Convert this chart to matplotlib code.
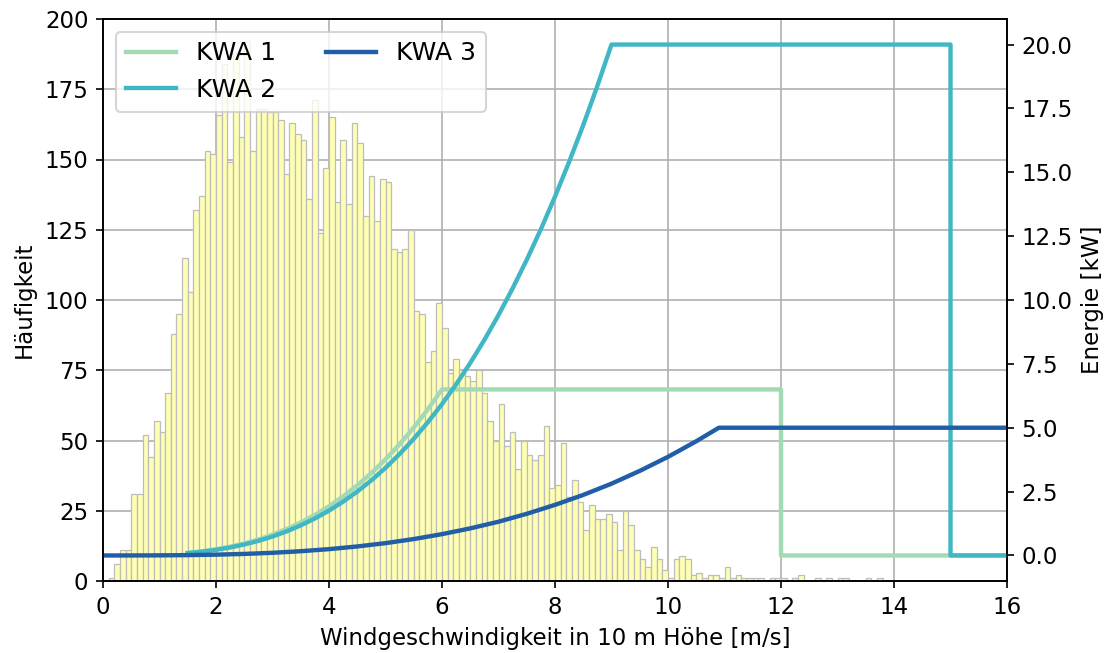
import matplotlib
matplotlib.use("Agg")
import matplotlib.pyplot as plt
import numpy as np

plt.rcParams["font.size"] = 11

# histogram of wind speed, bins of 0.1 m/s starting at 0
bin_width = 0.1
counts = [0, 1, 6, 11, 11, 31, 31, 52, 44, 57,
          53, 67, 88, 95, 115, 103, 132, 137, 153, 152,
          166, 184, 149, 188, 158, 192, 153, 168, 168, 167,
          167, 164, 145, 163, 159, 157, 136, 171, 124, 147,
          165, 135, 157, 134, 163, 156, 130, 144, 128, 143,
          142, 118, 117, 118, 125, 96, 95, 78, 82, 99,
          90, 74, 79, 75, 73, 71, 75, 67, 57, 50,
          63, 48, 53, 40, 50, 45, 43, 45, 55, 33,
          34, 49, 30, 36, 28, 18, 27, 22, 22, 24,
          21, 11, 25, 20, 11, 8, 5, 12, 8, 4,
          1, 8, 9, 8, 2, 3, 1, 2, 2, 1,
          5, 1, 2, 1, 1, 1, 1, 0, 1, 1,
          1, 0, 1, 2, 0, 0, 1, 0, 1, 0,
          1, 1, 0, 0, 0, 1, 0, 1, 0, 0]

# power curves
kwa1_v = [1.5, 1.75, 2.0, 2.25, 2.5, 2.75, 3.0, 3.25, 3.5, 3.75, 4.0, 4.25, 4.5,
          4.75, 5.0, 5.25, 5.5, 5.75, 6.0, 12.0, 12.0, 16.0]
kwa1_p = [0.102, 0.161, 0.241, 0.343, 0.470, 0.626, 0.813, 1.033, 1.290, 1.587,
          1.926, 2.310, 2.742, 3.225, 3.762, 4.355, 5.007, 5.721, 6.5, 6.5, 0.0, 0.0]

kwa2_v = [1.5, 1.75, 2.0, 2.25, 2.5, 2.75, 3.0, 3.25, 3.5, 3.75, 4.0, 4.25, 4.5,
          4.75, 5.0, 5.25, 5.5, 5.75, 6.0, 6.25, 6.5, 6.75, 7.0, 7.25, 7.5, 7.75,
          8.0, 8.25, 8.5, 8.75, 9.0, 15.0, 15.0, 16.0]
kwa2_p = [0.093, 0.147, 0.219, 0.313, 0.429, 0.570, 0.741, 0.942, 1.176, 1.447,
          1.756, 2.106, 2.500, 2.940, 3.429, 3.970, 4.565, 5.216, 5.926, 6.698,
          7.534, 8.438, 9.410, 10.455, 11.574, 12.770, 14.047, 15.405, 16.849,
          18.380, 20.0, 20.0, 0.0, 0.0]

kwa3_v = [0.0, 0.5, 1.0, 1.5, 2.0, 2.5, 3.0, 3.5, 4.0, 4.5, 5.0, 5.5, 6.0, 6.5,
          7.0, 7.5, 8.0, 8.5, 9.0, 9.5, 10.0, 10.5, 10.9, 16.0]
kwa3_p = [0.0, 0.0, 0.004, 0.013, 0.031, 0.060, 0.104, 0.166, 0.247, 0.352, 0.482,
          0.642, 0.834, 1.06, 1.32, 1.63, 1.98, 2.37, 2.81, 3.31, 3.86, 4.47, 5.0, 5.0]

fig = plt.figure(figsize=(1109 / 150, 653 / 150), dpi=150)
ax = fig.add_axes([103 / 1109, 1 - 581 / 653, 904 / 1109, 562 / 653])

left = np.arange(len(counts)) * bin_width
ax.bar(left, counts, width=bin_width, align="edge", color="#ffffb3",
       edgecolor="#bdbdbd", linewidth=0.6)
ax.set_axisbelow(True)
ax.grid(True, color="#b0b0b0", linewidth=0.8)
ax.set_xlim(0, 16)
ax.set_ylim(0, 200)
ax.set_yticks(np.arange(0, 201, 25))
ax.set_xlabel("Windgeschwindigkeit in 10 m Höhe [m/s]")
ax.set_ylabel("Häufigkeit")

ax2 = ax.twinx()
ax2.plot(kwa1_v, kwa1_p, color="#a1dab4", lw=2.1, label="KWA 1")
ax2.plot(kwa2_v, kwa2_p, color="#41b6c4", lw=2.1, label="KWA 2")
ax2.plot(kwa3_v, kwa3_p, color="#225ea8", lw=2.1, label="KWA 3")
ax2.set_ylim(-1, 21)
ax2.set_ylabel("Energie [kW]")
ax2.legend(loc="upper left", ncol=2, fontsize=12)

fig.savefig("out.png", dpi=150)
